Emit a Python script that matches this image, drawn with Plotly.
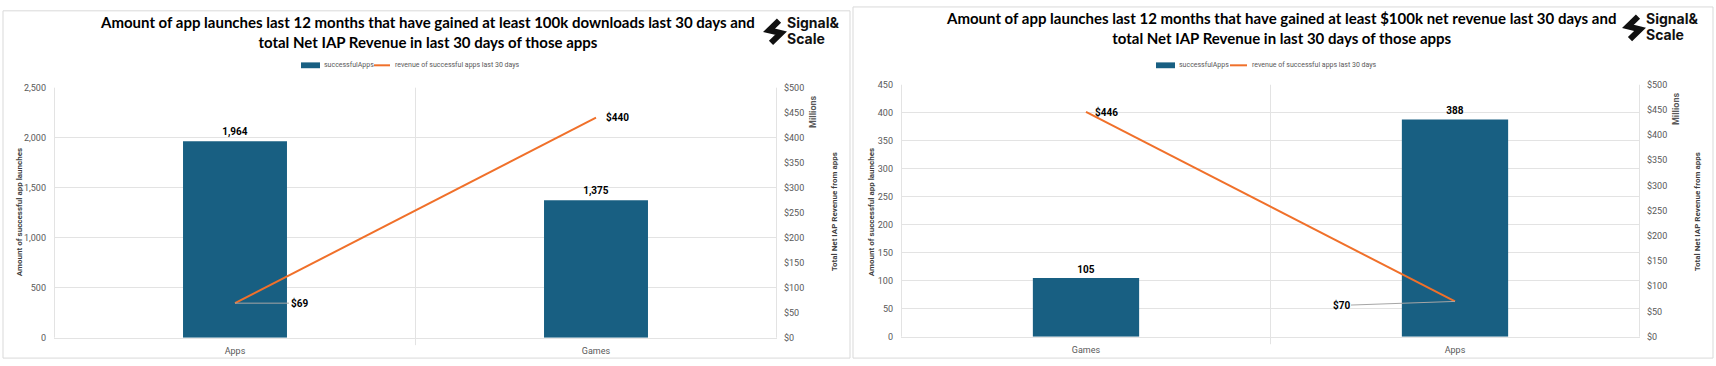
import plotly.graph_objects as go

W, H = 1716, 366

# ---- data ----
left_categories = ["Apps", "Games"]
left_successful_apps = [1964, 1375]
left_revenue_millions = [69, 440]

right_categories = ["Games", "Apps"]
right_successful_apps = [105, 388]
right_revenue_millions = [446, 70]

left_title = ("Amount of app launches last 12 months that have gained at least 100k downloads last 30 days and<br>"
              "total Net IAP Revenue in last 30 days of those apps")
right_title = ("Amount of app launches last 12 months that have gained at least $100k net revenue last 30 days and<br>"
               "total Net IAP Revenue in last 30 days of those apps")
bar_series_name = "successfulApps"
line_series_name = "revenue of successful apps last 30 days"

left_y_ticks = [0, 500, 1000, 1500, 2000, 2500]
right_y_ticks = [0, 50, 100, 150, 200, 250, 300, 350, 400, 450]
rev_ticks = [0, 50, 100, 150, 200, 250, 300, 350, 400, 450, 500]

BAR = "#185F82"
LINE = "#F0702A"
GRID = "#E3E3E3"
TICK = "#595959"
TFONT = "Lato, sans-serif"
BFONT = "Roboto, Liberation Sans, sans-serif"


def px(x):
    return x / W


def py(y):
    return 1 - y / H


fig = go.Figure()

fig.add_trace(go.Bar(x=left_categories, y=left_successful_apps, marker_color=BAR,
                     marker_line_width=0, name=bar_series_name, xaxis="x", yaxis="y",
                     texttemplate="<b>%{y:,}</b>", textposition="outside",
                     textfont=dict(family=BFONT, size=10, color="#000000"),
                     cliponaxis=False))
fig.add_trace(go.Scatter(x=left_categories, y=left_revenue_millions, mode="lines",
                         line=dict(color=LINE, width=2), name=line_series_name,
                         xaxis="x", yaxis="y2"))
fig.add_trace(go.Bar(x=right_categories, y=right_successful_apps, marker_color=BAR,
                     marker_line_width=0, name=bar_series_name, xaxis="x2", yaxis="y3",
                     texttemplate="<b>%{y:,}</b>", textposition="outside",
                     textfont=dict(family=BFONT, size=10, color="#000000"),
                     cliponaxis=False))
fig.add_trace(go.Scatter(x=right_categories, y=right_revenue_millions, mode="lines",
                         line=dict(color=LINE, width=2), name=line_series_name,
                         xaxis="x2", yaxis="y4"))

tickfont = dict(family=BFONT, size=9, color=TICK)

xl = [px(54), px(777)]
yl = [py(342), py(85)]
xr = [px(901), px(1640)]
yr = [py(341), py(82)]

fig.update_layout(
    width=W, height=H, margin=dict(l=0, r=0, t=0, b=0),
    paper_bgcolor="white", plot_bgcolor="white",
    bargap=0.712, showlegend=False,
    xaxis=dict(domain=xl, anchor="y", tickfont=tickfont, showgrid=False, showline=True,
               linecolor=GRID, ticks="", ticklabelstandoff=5),
    yaxis=dict(domain=yl, anchor="x", range=[0, 2500], tickvals=left_y_ticks,
               tickformat=",d", tickfont=tickfont, gridcolor=GRID, zeroline=False,
               showline=False, ticks="", ticklabelstandoff=7),
    yaxis2=dict(overlaying="y", side="right", anchor="x", range=[0, 500], tickvals=rev_ticks,
                ticktext=[f"${v}" for v in rev_ticks], tickfont=tickfont, showgrid=False,
                zeroline=False, ticklabelstandoff=6),
    xaxis2=dict(domain=xr, anchor="y3", tickfont=tickfont, showgrid=False, showline=True,
                linecolor=GRID, ticks="", ticklabelstandoff=5),
    yaxis3=dict(domain=yr, anchor="x2", range=[0, 450], tickvals=right_y_ticks,
                tickfont=tickfont, gridcolor=GRID, zeroline=False, ticks="", ticklabelstandoff=7),
    yaxis4=dict(overlaying="y3", side="right", anchor="x2", range=[0, 500], tickvals=rev_ticks,
                ticktext=[f"${v}" for v in rev_ticks], tickfont=tickfont, showgrid=False,
                zeroline=False, ticklabelstandoff=6),
)

shapes = []
shapes.append(dict(type="rect", xref="paper", yref="paper", x0=px(3), x1=px(850), y0=py(363), y1=py(6),
                   line=dict(color="#D9D9D9", width=1), fillcolor="rgba(0,0,0,0)", layer="below"))
shapes.append(dict(type="rect", xref="paper", yref="paper", x0=px(853), x1=px(1713), y0=py(363), y1=py(2),
                   line=dict(color="#D9D9D9", width=1), fillcolor="rgba(0,0,0,0)", layer="below"))
for xa, ya in (("x", "y"), ("x2", "y3")):
    for b in (-0.5, 0.5, 1.5):
        shapes.append(dict(type="line", xref=xa, yref=f"{ya} domain", x0=b, x1=b,
                           y0=-0.03 if b == 0.5 else 0, y1=1,
                           line=dict(color=GRID, width=1), layer="below"))
# logo glyphs
for lx, ly in ((766, 14), (1625, 10)):
    shapes.append(dict(type="path", xref="paper", yref="paper",
                       path=(f"M {px(lx+13)},{py(ly+2)} L {px(lx+3)},{py(ly+12)} L {px(lx+15)},{py(ly+15)} "
                             f"L {px(lx+5)},{py(ly+25)}"),
                       line=dict(color="#111111", width=6), layer="above"))

# manual legends
ann = []
leg_font = dict(family=BFONT, size=7, color=TICK)
for (r0, r1, t1, l0, l1, t2, ly) in ((301, 320, 322, 374, 390, 393, 62),
                                      (1156, 1175, 1177, 1230, 1247, 1250, 62)):
    shapes.append(dict(type="rect", xref="paper", yref="paper", x0=px(r0), x1=px(r1),
                       y0=py(ly + 3), y1=py(ly - 3), line=dict(width=0), fillcolor=BAR))
    shapes.append(dict(type="line", xref="paper", yref="paper", x0=px(l0), x1=px(l1),
                       y0=py(ly), y1=py(ly), line=dict(color=LINE, width=2)))
    ann.append(dict(text=bar_series_name, x=px(t1), y=py(ly), xref="paper", yref="paper",
                    xanchor="left", yanchor="middle", showarrow=False, font=leg_font))
    ann.append(dict(text=line_series_name, x=px(t2), y=py(ly), xref="paper", yref="paper",
                    xanchor="left", yanchor="middle", showarrow=False, font=leg_font))

fig.update_layout(shapes=shapes)

ann.append(dict(text=f"<b>{left_title}</b>", x=px(427), y=py(28), xref="paper", yref="paper",
                xanchor="center", yanchor="middle",
                showarrow=False, font=dict(family=TFONT, size=15, color="#000000"), align="center"))
ann.append(dict(text=f"<b>{right_title}</b>", x=px(1281), y=py(24), xref="paper", yref="paper",
                xanchor="center", yanchor="middle",
                showarrow=False, font=dict(family=TFONT, size=15, color="#000000"), align="center"))
logo_font = dict(family="Inter, sans-serif", size=14, color="#111111")
for lx, y1, y2 in ((786, 18, 34), (1645, 14, 30)):
    ann.append(dict(text="<b>Signal&</b>", x=px(lx), y=py(y1), xref="paper", yref="paper", borderpad=0,
                    xanchor="left", yanchor="middle", showarrow=False, font=logo_font))
    ann.append(dict(text="<b>Scale</b>", x=px(lx), y=py(y2), xref="paper", yref="paper", borderpad=0,
                    xanchor="left", yanchor="middle", showarrow=False, font=logo_font))
ytitle_font = dict(family=BFONT, size=8, color="#404040")
mfont = dict(family=BFONT, size=9, color="#595959")
for text, x, y, f in (("Amount of successful app launches", 19, 213, ytitle_font),
                      ("Total Net IAP Revenue from apps", 834, 213, ytitle_font),
                      ("Millions", 813, 110, mfont),
                      ("Amount of successful app launches", 871, 213, ytitle_font),
                      ("Total Net IAP Revenue from apps", 1697, 213, ytitle_font),
                      ("Millions", 1676, 107, mfont)):
    ann.append(dict(text=f"<b>{text}</b>", textangle=-90, x=px(x), y=py(y), xref="paper", yref="paper",
                    xanchor="center", yanchor="middle", showarrow=False, font=f))

lab_font = dict(family=BFONT, size=10, color="#000000")
ann.append(dict(text=f"<b>${left_revenue_millions[0]}</b>", x=left_categories[0], y=left_revenue_millions[0],
                xref="x", yref="y2", showarrow=True, arrowhead=0, arrowwidth=1, arrowcolor="#A6A6A6",
                ax=64, ay=0, font=lab_font))
ann.append(dict(text=f"<b>${left_revenue_millions[1]}</b>", x=left_categories[1], y=left_revenue_millions[1],
                xref="x", yref="y2", showarrow=False, xanchor="left", yanchor="middle", xshift=8, yshift=1,
                font=lab_font))
ann.append(dict(text=f"<b>${right_revenue_millions[0]}</b>", x=right_categories[0], y=right_revenue_millions[0],
                xref="x2", yref="y4", showarrow=False, xanchor="left", yanchor="middle", xshift=7, yshift=0,
                font=lab_font))
ann.append(dict(text=f"<b>${right_revenue_millions[1]}</b>", x=right_categories[1], y=right_revenue_millions[1],
                xref="x2", yref="y4", showarrow=True, arrowhead=0, arrowwidth=1, arrowcolor="#A6A6A6",
                ax=-114, ay=4, font=lab_font))
fig.update_layout(annotations=ann)

fig.write_html("out.html")
